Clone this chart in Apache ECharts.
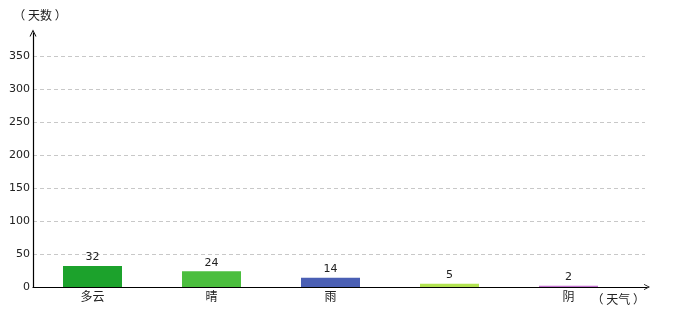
<!DOCTYPE html>
<html><head><meta charset="utf-8">
<script src="https://cdn.jsdelivr.net/npm/echarts@6/dist/echarts.min.js"></script>
<style>html,body{margin:0;padding:0;background:#fff}#c{width:680px;height:320px}</style>
</head><body><div id="c"></div>
<script>
const categories = ['多云', '晴', '雨', '', '阴'];
const values = [32, 24, 14, 5, 2];
const barColors = ['#1ca22c', '#4bbe3e', '#4a5fb4', '#b2e352', '#c271cf'];
const yTicks = [0, 50, 100, 150, 200, 250, 300, 350];
const yName = '（ 天数 ）';
const xName = '（ 天气 ）';

const FONT = '"DejaVu Sans", "Noto Sans CJK SC", sans-serif';
const CJK = '"Noto Sans CJK SC", sans-serif';
const chevronUp = 'path://M0,10 L5,0 L10,10 L8.6,10 L5,2.8 L1.4,10 Z';
const chart = echarts.init(document.getElementById('c'));
chart.setOption({
  animation: false,
  grid: [
    { left: 33, right: 52, top: 56, bottom: 33 },
    { left: 33, right: 35, top: 56, bottom: 33 },
    { left: 33, right: 33, top: 33, bottom: 33 }
  ],
  xAxis: [
    { gridIndex: 0, type: 'category', data: categories,
      axisLine: { show: false }, axisTick: { show: false },
      axisLabel: { color: '#222', fontSize: 12, margin: 3, fontFamily: CJK } },
    { gridIndex: 1, type: 'value', min: 0, max: 1, show: false },
    { gridIndex: 2, type: 'value', min: 0, max: 1,
      axisLine: { show: true, lineStyle: { color: '#000', width: 1.2 }, symbol: ['none', chevronUp], symbolSize: [9, 6] },
      axisTick: { show: false }, axisLabel: { show: false }, splitLine: { show: false },
      name: xName, nameLocation: 'end', nameGap: 0,
      nameTextStyle: { color: '#222', fontSize: 12, fontFamily: CJK, align: 'right', verticalAlign: 'top', padding: [6, 2, 0, 0] } }
  ],
  yAxis: [
    { gridIndex: 0, type: 'value', min: 0, max: 350, interval: 50, show: false },
    { gridIndex: 1, type: 'value', min: 0, max: 350, interval: 50,
      axisLine: { show: false }, axisTick: { show: false },
      axisLabel: { color: '#222', fontSize: 11, margin: 3, fontFamily: FONT,
        formatter: v => yTicks.includes(v) ? String(v) : '' },
      splitLine: { show: true, lineStyle: { color: '#c8c8c8', type: [4, 3], width: 1 } } },
    { gridIndex: 2, type: 'value', min: 0, max: 1,
      axisLine: { show: true, lineStyle: { color: '#000', width: 1.2 }, symbol: ['none', chevronUp], symbolSize: [7, 9] },
      axisTick: { show: false }, axisLabel: { show: false }, splitLine: { show: false },
      name: yName, nameLocation: 'end', nameGap: 12,
      nameTextStyle: { color: '#222', fontSize: 12, fontFamily: CJK, align: 'center', padding: [0, 0, 0, 14] } }
  ],
  series: [{
    type: 'bar', xAxisIndex: 0, yAxisIndex: 0,
    data: values.map((v, i) => ({ value: v, itemStyle: { color: barColors[i] } })),
    barWidth: 59,
    label: { show: true, position: 'top', color: '#222', fontSize: 11, distance: 3, fontFamily: FONT }
  }]
});
</script></body></html>
